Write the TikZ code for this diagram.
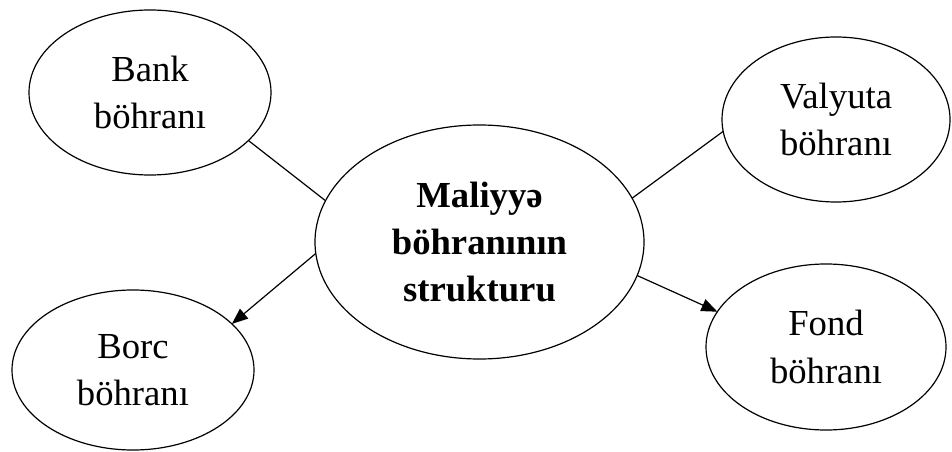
\documentclass[tikz,border=0pt]{standalone}
\usepackage{fontspec}
\setmainfont{Liberation Serif}
\usetikzlibrary{shapes.geometric,arrows.meta}
\tikzset{
  oval/.style={ellipse, draw, line width=0.9pt, inner sep=0pt, outer sep=0pt, align=center,
    font=\fontsize{27.5}{35.5}\selectfont},
  link/.style={line width=0.9pt},
  arrowlink/.style={line width=0.9pt, -{Triangle[length=12pt,width=9.5pt]}}
}
\begin{document}
\begin{tikzpicture}[x=0.75pt,y=-0.75pt]
\useasboundingbox (0,0) rectangle (952,452);
\node[oval, minimum width=181.5pt, minimum height=123.75pt] (bank) at (150,92.5) {Bank\\böhranı};
\node[oval, minimum width=246.75pt, minimum height=175.5pt] (main) at (479.5,242) {\bfseries Maliyyə\\\bfseries böhranının\\\bfseries strukturu};
\node[oval, minimum width=171pt, minimum height=123.75pt] (valyuta) at (836,119.5) {Valyuta\\böhranı};
\node[oval, minimum width=181.5pt, minimum height=120pt] (borc) at (133,370) {Borc\\böhranı};
\node[oval, minimum width=180pt, minimum height=124.5pt] (fond) at (826,347) {Fond\\böhranı};
\draw[link] (bank.-26.8) -- (main.165);
\draw[link] (valyuta.186.75) -- (main.16.9);
\draw[arrowlink] (main.184.5) -- (borc.25.4);
\draw[arrowlink] (main.-12.5) -- (fond.162);
\end{tikzpicture}
\end{document}
